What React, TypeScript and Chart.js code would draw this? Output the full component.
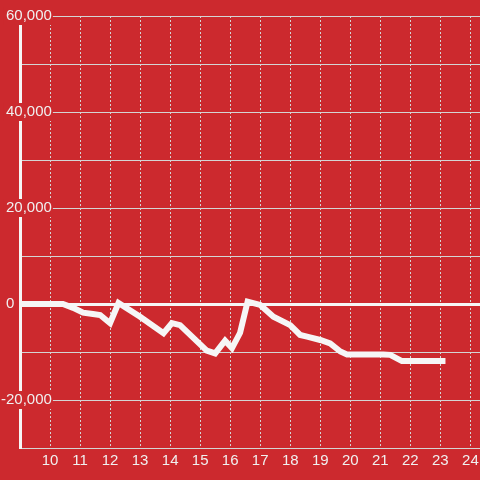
import React, { useEffect, useRef } from 'react';
import { Chart, registerables } from 'chart.js';

Chart.register(...registerables);

// Series (x = hour of day, y = value)
const X_VALUES = [9, 10.43, 10.77, 11.1, 11.43, 11.67, 12.0, 12.28, 13.0, 13.78, 14.06, 14.33, 15.22, 15.5, 15.83, 16.06, 16.33, 16.58, 17.0, 17.44, 18.0, 18.33, 18.56, 19.0, 19.33, 19.67, 19.89, 21.1, 21.33, 21.72, 23.17];
const Y_VALUES = [0, 0, -800, -1800, -2100, -2300, -4000, 200, -2650, -6100, -4000, -4400, -9700, -10300, -7650, -9200, -6000, 500, -200, -2650, -4400, -6450, -6800, -7500, -8200, -9900, -10500, -10500, -10600, -11900, -11900];

// Axis ticks
const X_TICKS = [10, 11, 12, 13, 14, 15, 16, 17, 18, 19, 20, 21, 22, 23, 24];
const Y_TICKS = [-30000, -20000, -10000, 0, 10000, 20000, 30000, 40000, 50000, 60000];
const Y_LABELED = [60000, 40000, 20000, 0, -20000];

const X_MIN = 9;
const X_MAX = 24.32;
const Y_MIN = -30000;
const Y_MAX = 60000;

const BG = '#cc292e';
const GRID = '#d4d4d4';
const WHITE = '#f6f6f6';
const TEXT = '#f0f0f0';
const FONT = { family: "'Liberation Sans', Arial, sans-serif", size: 15 };

export default function App() {
  const ref = useRef<HTMLCanvasElement>(null);

  useEffect(() => {
    if (!ref.current) return;
    const chart = new Chart(ref.current, {
      type: 'line',
      data: {
        datasets: [
          {
            data: X_VALUES.map((x, i) => ({ x, y: Y_VALUES[i] })),
            borderColor: WHITE,
            borderWidth: 6,
            pointRadius: 0,
            tension: 0,
            fill: false,
            borderCapStyle: 'butt',
            borderJoinStyle: 'miter',
          },
        ],
      },
      options: {
        animation: false,
        responsive: false,
        devicePixelRatio: 1,
        layout: { padding: { top: 16, left: 0, right: 0, bottom: 0 } },
        plugins: {
          legend: { display: false },
          tooltip: { enabled: false },
        },
        scales: {
          x: {
            type: 'linear',
            min: X_MIN,
            max: X_MAX,
            afterBuildTicks: (scale: any) => {
              scale.ticks = X_TICKS.map((v) => ({ value: v }));
            },
            afterFit: (scale: any) => {
              scale.height = 32;
              scale.paddingLeft = 0;
              scale.paddingRight = 0;
            },
            grid: {
              color: GRID,
              lineWidth: 1,
              drawTicks: false,
            },
            border: { display: true, color: GRID, width: 1, dash: [2, 2] },
            ticks: {
              autoSkip: false,
              maxRotation: 0,
              padding: 4,
              color: TEXT,
              font: FONT,
              callback: (v: any) => String(v),
            },
          },
          y: {
            type: 'linear',
            min: Y_MIN,
            max: Y_MAX,
            afterBuildTicks: (scale: any) => {
              scale.ticks = Y_TICKS.map((v) => ({ value: v }));
            },
            afterFit: (scale: any) => {
              scale.width = 20;
              scale.paddingTop = 0;
              scale.paddingBottom = 0;
            },
            grid: {
              color: (ctx: any) => (ctx.tick && ctx.tick.value === 0 ? WHITE : GRID),
              lineWidth: (ctx: any) => (ctx.tick && ctx.tick.value === 0 ? 3 : 1),
              drawTicks: false,
            },
            border: { display: true, color: WHITE, width: 3 },
            ticks: {
              autoSkip: false,
              mirror: true,
              crossAlign: 'far',
              padding: -19,
              color: TEXT,
              font: FONT,
              showLabelBackdrop: (ctx: any) =>
                !!ctx.tick && ctx.tick.value !== 0 && Y_LABELED.includes(ctx.tick.value),
              backdropColor: BG,
              backdropPadding: { top: 0, bottom: 0, left: 2, right: 1 },
              callback: (v: any) => {
                const n = Number(v);
                if (!Y_LABELED.includes(n)) return '';
                if (n === 0) return '0' + ' '.repeat(9);
                return n.toLocaleString('en-US');
              },
            },
          },
        },
      } as any,
    });
    return () => chart.destroy();
  }, []);

  return (
    <div
      style={{
        position: 'fixed',
        left: 0,
        top: 0,
        width: 480,
        height: 480,
        background: BG,
      }}
    >
      <canvas ref={ref} width={480} height={480} style={{ display: 'block' }} />
    </div>
  );
}
